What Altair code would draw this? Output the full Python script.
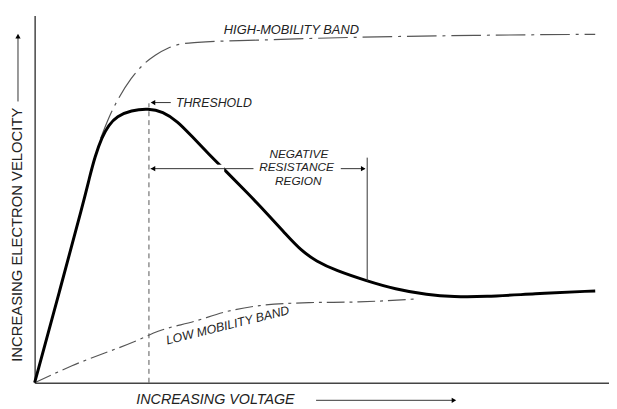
import altair as alt
import pandas as pd

# ---- data (x = voltage 0..100, y = electron velocity 0..100) ----
main_v = [0, 4.3, 8.6, 9.5, 10.5, 11.7, 12.9, 14.3, 16.8, 19.8, 22.3, 24.9, 27.5, 30.1, 33.5,
          36.9, 40.4, 43.8, 46.4, 49.0, 52.4, 57.9, 62.7, 68.4, 73.0, 78.2, 86.8, 97.6]
main_u = [0, 24.7, 49.7, 55.6, 61.6, 66.9, 70.2, 72.6, 74.2, 74.7, 73.9, 71.2, 66.9, 62.6, 57.3,
          51.9, 46.2, 40.3, 36.0, 33.1, 30.6, 27.7, 25.5, 23.9, 23.4, 23.4, 24.2, 25.0]

high_v = [11.5, 13.2, 14.6, 16.8, 18.9, 21.0, 23.2, 25.3, 28.4, 38.7, 56.7, 76.5, 97.6]
high_u = [66.6, 73.1, 77.4, 82.8, 86.6, 89.2, 91.1, 92.2, 92.7, 93.3, 94.1, 94.6, 94.9]

low_v = [0, 6.5, 18.0, 21.5, 27.8, 33.5, 39.2, 47.8, 56.4, 66.2]
low_u = [0, 4.6, 11.6, 14.0, 16.7, 19.4, 21.0, 21.8, 22.0, 22.8]

threshold_v = 19.9
neg_end_v = 57.9

FONT = "Liberation Sans"
GRAY = "#555555"

X = alt.Scale(domain=[0, 100], nice=False, zero=False)
Y = alt.Scale(domain=[0, 100], nice=False, zero=False)
xax = alt.Axis(domain=True, ticks=False, labels=False, grid=False, title=None,
               domainColor="#444444", domainWidth=1.5)
yax = alt.Axis(domain=True, ticks=False, labels=False, grid=False, title=None,
               domainColor="#444444", domainWidth=1.5)

main_df = pd.DataFrame({"v": main_v, "u": main_u})
high_df = pd.DataFrame({"v": high_v, "u": high_u})
low_df = pd.DataFrame({"v": low_v, "u": low_u})

base_x = alt.X("v:Q", scale=X, axis=xax)
base_y = alt.Y("u:Q", scale=Y, axis=yax)

main = alt.Chart(main_df).mark_line(color="black", strokeWidth=3, interpolate="basis",
                                    clip=False).encode(x=base_x, y=base_y)
high = alt.Chart(high_df).mark_line(color=GRAY, strokeWidth=1.2, strokeDash=[30, 6, 3, 6],
                                    interpolate="monotone").encode(x=base_x, y=base_y)
low = alt.Chart(low_df).mark_line(color=GRAY, strokeWidth=1.2, strokeDash=[18, 5, 3, 5],
                                  interpolate="monotone").encode(x=base_x, y=base_y)

# threshold dashed vertical
thr_df = pd.DataFrame([{"x1": threshold_v, "x2": threshold_v, "y1": 0, "y2": 76.1}])
thr = alt.Chart(thr_df).mark_rule(color=GRAY, strokeWidth=1, strokeDash=[5, 4]).encode(
    x=alt.X("x1:Q", scale=X, axis=xax), x2="x2:Q",
    y=alt.Y("y1:Q", scale=Y, axis=yax), y2="y2:Q")

segs_df = pd.DataFrame([
    {"x1": 20.6, "x2": 23.7, "y1": 76.3, "y2": 76.3},     # threshold pointer
    {"x1": 20.2, "x2": 38.1, "y1": 58.3, "y2": 58.3},     # negative region left arrow
    {"x1": 53.3, "x2": 57.5, "y1": 58.3, "y2": 58.3},     # negative region right arrow
    {"x1": neg_end_v, "x2": neg_end_v, "y1": 27.7, "y2": 61.3},  # end of region
    {"x1": 49.0, "x2": 73.0, "y1": -4.8, "y2": -4.8},     # x-axis title arrow
    {"x1": -2.9, "x2": -2.9, "y1": 76.6, "y2": 94.0},     # y-axis title arrow
])
gap_df = pd.DataFrame([{"x1": 31.0, "x2": 33.0, "y1": 58.3, "y2": 58.3}])
gap = alt.Chart(gap_df).mark_rule(color="white", strokeWidth=8, clip=False).encode(
    x=alt.X("x1:Q", scale=X, axis=xax), x2="x2:Q",
    y=alt.Y("y1:Q", scale=Y, axis=yax), y2="y2:Q")
segs = alt.Chart(segs_df).mark_rule(color="#333333", strokeWidth=1, clip=False).encode(
    x=alt.X("x1:Q", scale=X, axis=xax), x2="x2:Q",
    y=alt.Y("y1:Q", scale=Y, axis=yax), y2="y2:Q")

heads_df = pd.DataFrame([
    {"x": 20.6, "y": 76.3, "shape": "triangle-left"},
    {"x": 20.6, "y": 58.3, "shape": "triangle-left"},
    {"x": 57.2, "y": 58.3, "shape": "triangle-right"},
    {"x": 73.0, "y": -4.8, "shape": "triangle-right"},
    {"x": -2.9, "y": 94.4, "shape": "triangle-up"},
])
heads = alt.Chart(heads_df).mark_point(filled=True, color="black", size=28, opacity=1,
                                       clip=False).encode(
    x=alt.X("x:Q", scale=X, axis=xax), y=alt.Y("y:Q", scale=Y, axis=yax),
    shape=alt.Shape("shape:N", scale=None))

def label(df, **kw):
    return alt.Chart(pd.DataFrame(df)).mark_text(font=FONT, color="#222222", clip=False, **kw).encode(
        x=alt.X("x:Q", scale=X, axis=xax), y=alt.Y("y:Q", scale=Y, axis=yax), text="t:N")

t_thr = label([{"x": 24.6, "y": 76.3, "t": "THRESHOLD"}], align="left", baseline="middle",
              fontSize=12.5, fontStyle="italic")
t_neg = label([{"x": 46.0, "y": 62.3, "t": "NEGATIVE"},
               {"x": 45.6, "y": 58.7, "t": "RESISTANCE"},
               {"x": 45.9, "y": 54.8, "t": "REGION"}],
              align="center", baseline="middle", fontSize=12, fontStyle="italic")
t_high = label([{"x": 44.7, "y": 96.0, "t": "HIGH-MOBILITY BAND"}], align="center",
               baseline="middle", fontSize=13, fontStyle="italic")
t_low = label([{"x": 33.6, "y": 15.6, "t": "LOW MOBILITY BAND"}], align="center",
              baseline="middle", fontSize=12.5, fontStyle="italic", angle=346)
t_xt = label([{"x": 17.7, "y": -4.8, "t": "INCREASING   VOLTAGE"}], align="left",
             baseline="middle", fontSize=14.5, fontStyle="italic")
t_yt = label([{"x": -3.1, "y": 40.3, "t": "INCREASING  ELECTRON  VELOCITY"}], align="center",
             baseline="middle", fontSize=15, angle=270)

chart = alt.layer(low, high, thr, main, gap, segs, heads, t_thr, t_neg, t_high, t_low, t_xt, t_yt).properties(
    width=582, height=372,
    autosize=alt.AutoSizeParams(type="none"),
    padding={"left": 27, "top": 5, "right": 0, "bottom": 24},
    background="white",
).configure_view(stroke=None)

chart.save("out.html", embed_options={"renderer": "svg", "actions": False})
